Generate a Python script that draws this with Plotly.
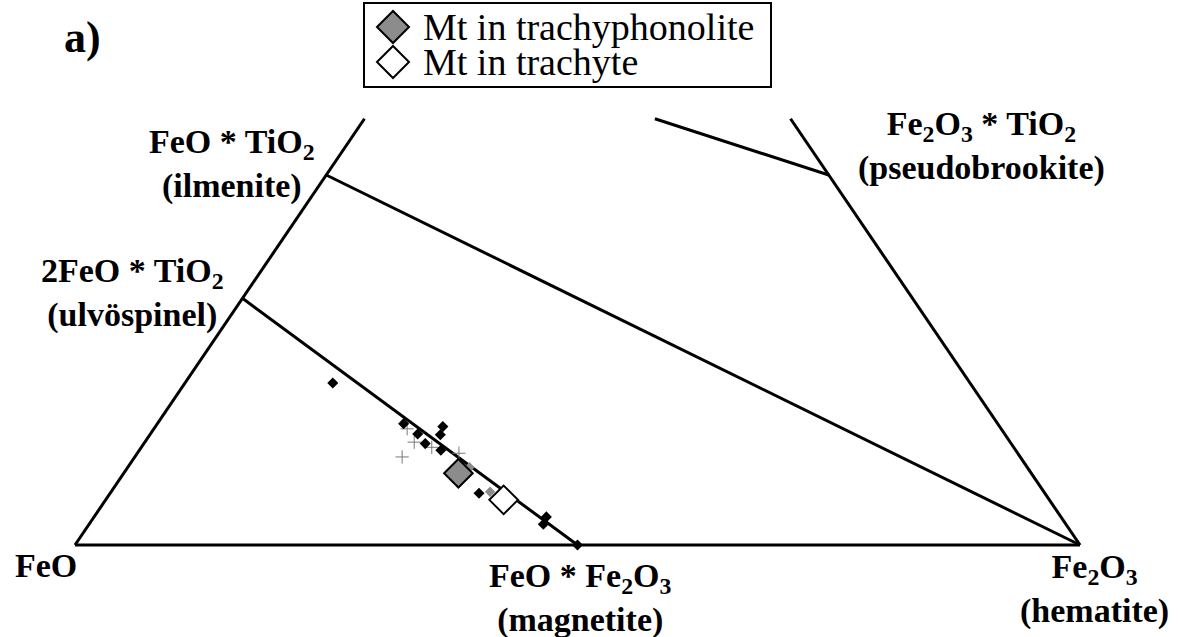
import plotly.graph_objects as go

# Ternary system FeO - Fe2O3 - TiO2 (mole fractions), drawn on a cartesian frame:
#   x = Fe2O3 + TiO2 / 2,  y = TiO2

# End-member compositions (FeO, Fe2O3, TiO2)
FEO = (1.0, 0.0, 0.0)
HEMATITE = (0.0, 1.0, 0.0)
MAGNETITE = (0.5, 0.5, 0.0)
ILMENITE = (0.5, 0.0, 0.5)
ULVOSPINEL = (2 / 3, 0.0, 1 / 3)
PSEUDOBROOKITE = (0.0, 0.5, 0.5)

# TiO2 level where the diagram is cut off at the top
TIO2_TOP = 0.576
# Upper end of the join drawn from pseudobrookite toward ferropseudobrookite
FPB_JOIN_END = (0.135, 0.289, 0.576)

# Individual magnetite analyses (black diamonds)
mt_feo = [0.634, 0.591, 0.554, 0.562, 0.584, 0.583, 0.572, 0.563, 0.512, 0.520, 0.500]
mt_fe2o3 = [0.147, 0.245, 0.286, 0.289, 0.266, 0.280, 0.300, 0.367, 0.450, 0.452, 0.500]
mt_tio2 = [0.219, 0.164, 0.160, 0.149, 0.150, 0.137, 0.128, 0.070, 0.038, 0.028, 0.000]

# Additional analyses (thin crosses)
cx_feo = [0.615, 0.593, 0.579, 0.556, 0.591]
cx_fe2o3 = [0.266, 0.268, 0.289, 0.320, 0.252]
cx_tio2 = [0.119, 0.139, 0.132, 0.124, 0.157]

# Grey analyses partly hidden under the mean symbols
gr_feo = [0.555, 0.551]
gr_fe2o3 = [0.340, 0.377]
gr_tio2 = [0.105, 0.072]

# Mean compositions
trph_feo, trph_fe2o3, trph_tio2 = [0.570], [0.333], [0.097]
trch_feo, trch_fe2o3, trch_tio2 = [0.543], [0.396], [0.061]

W, H = 1181, 637
SERIF = "Liberation Serif, Times New Roman, serif"
GREY_FILL = "#8c8c8c"
LINE_W = 3


def to_x(fe2o3, tio2):
    return [a + b / 2 for a, b in zip(fe2o3, tio2)]


def to_y(tio2):
    return list(tio2)


def pt(c):
    return c[1] + c[2] / 2, c[2]


def edge_at(c_from, c_to, level):
    """Point on segment c_from -> c_to where TiO2 equals level."""
    t = (level - c_from[2]) / (c_to[2] - c_from[2])
    return tuple(a + t * (b - a) for a, b in zip(c_from, c_to))


APEX = (0.0, 0.0, 1.0)
segments = [
    (FEO, HEMATITE),
    (FEO, edge_at(FEO, APEX, TIO2_TOP)),
    (HEMATITE, edge_at(HEMATITE, APEX, TIO2_TOP)),
    (ILMENITE, HEMATITE),
    (ULVOSPINEL, MAGNETITE),
    (PSEUDOBROOKITE, FPB_JOIN_END),
]

fig = go.Figure()

for a, b in segments:
    (x0, y0), (x1, y1) = pt(a), pt(b)
    fig.add_trace(go.Scatter(
        x=[x0, x1], y=[y0, y1], mode="lines",
        line=dict(color="black", width=LINE_W),
        hoverinfo="skip", showlegend=False,
    ))

fig.add_trace(go.Scatter(
    x=to_x(cx_fe2o3, cx_tio2), y=to_y(cx_tio2), mode="markers",
    marker=dict(symbol="cross-thin", size=9.5, line=dict(color="#7a7a7a", width=1)),
    showlegend=False,
))

fig.add_trace(go.Scatter(
    x=to_x(gr_fe2o3, gr_tio2), y=to_y(gr_tio2), mode="markers",
    marker=dict(symbol="diamond", size=8, color=GREY_FILL, line=dict(width=0)),
    showlegend=False,
))

fig.add_trace(go.Scatter(
    x=to_x(mt_fe2o3, mt_tio2), y=to_y(mt_tio2), mode="markers",
    marker=dict(symbol="diamond", size=8.5, color="black", line=dict(width=0)),
    showlegend=False,
))

fig.add_trace(go.Scatter(
    x=to_x(trph_fe2o3, trph_tio2), y=to_y(trph_tio2), mode="markers",
    name="Mt in trachyphonolite",
    marker=dict(symbol="diamond", size=22, color=GREY_FILL, line=dict(color="black", width=2)),
    showlegend=False,
))

fig.add_trace(go.Scatter(
    x=to_x(trch_fe2o3, trch_tio2), y=to_y(trch_tio2), mode="markers",
    name="Mt in trachyte",
    marker=dict(symbol="diamond", size=22, color="white", line=dict(color="black", width=2)),
    showlegend=False,
))

# Vertex / end-member labels, offset in pixels from their compositions
labels = [
    (FEO, "<b>FeO</b>", -29, -20),
    (MAGNETITE, "<b>FeO * Fe<sub>2</sub>O<sub>3</sub></b><br><b>(magnetite)</b>", 3, -53),
    (HEMATITE, "<b>Fe<sub>2</sub>O<sub>3</sub></b><br><b>(hematite)</b>", 14, -44),
    (ILMENITE, "<b>FeO * TiO<sub>2</sub></b><br><b>(ilmenite)</b>", -94, 11),
    (ULVOSPINEL, "<b>2FeO * TiO<sub>2</sub></b><br><b>(ulvöspinel)</b>", -110, 5),
    (PSEUDOBROOKITE, "<b>Fe<sub>2</sub>O<sub>3</sub> * TiO<sub>2</sub></b><br><b>(pseudobrookite)</b>", 153, 29),
]
annotations = []
for comp, text, dx, dy in labels:
    x, y = pt(comp)
    annotations.append(dict(
        x=x, y=y, xref="x", yref="y", text=text, showarrow=False,
        xanchor="center", yanchor="middle", align="center",
        xshift=dx, yshift=dy,
        font=dict(family=SERIF, size=34, color="black"),
    ))

annotations.append(dict(
    x=82 / W, y=1 - 37 / H, xref="paper", yref="paper", text="<b>a)</b>",
    showarrow=False, xanchor="center", yanchor="middle",
    font=dict(family=SERIF, size=44, color="black"),
))

# Key box with its two entries
key_rows = [
    ("Mt in trachyphonolite", GREY_FILL, 27),
    ("Mt in trachyte", "white", 62),
]
shapes = [dict(
    type="rect", xref="paper", yref="paper",
    x0=364 / W, x1=771 / W, y0=1 - 87 / H, y1=1 - 3 / H,
    line=dict(color="black", width=2), fillcolor="white", layer="above",
)]
for text, fill, row_y in key_rows:
    shapes.append(dict(
        type="path", xref="paper", yref="paper",
        xsizemode="pixel", ysizemode="pixel",
        xanchor=393 / W, yanchor=1 - row_y / H,
        path="M-16,0 L0,16 L16,0 L0,-16 Z",
        fillcolor=fill, line=dict(color="black", width=2), layer="above",
    ))
    annotations.append(dict(
        x=422 / W, y=1 - row_y / H, xref="paper", yref="paper", text=text,
        showarrow=False, xanchor="left", yanchor="middle", borderpad=0,
        font=dict(family=SERIF, size=38, color="black"),
    ))

# Axis ranges map the frame onto the page: FeO at (75, 545) px, Fe2O3 at (1080, 545) px,
# TiO2 apex 740 px above the base.
x_px0, x_px1, base_px, apex_h = 75, 1080, 545, 740
sx = x_px1 - x_px0
fig.update_layout(
    width=W, height=H,
    margin=dict(l=0, r=0, t=0, b=0),
    paper_bgcolor="white", plot_bgcolor="white",
    xaxis=dict(range=[-x_px0 / sx, (W - x_px0) / sx], visible=False, fixedrange=True),
    yaxis=dict(range=[-(H - base_px) / apex_h, base_px / apex_h], visible=False, fixedrange=True),
    annotations=annotations,
    shapes=shapes,
    showlegend=False,
)

fig.write_html("out.html")
